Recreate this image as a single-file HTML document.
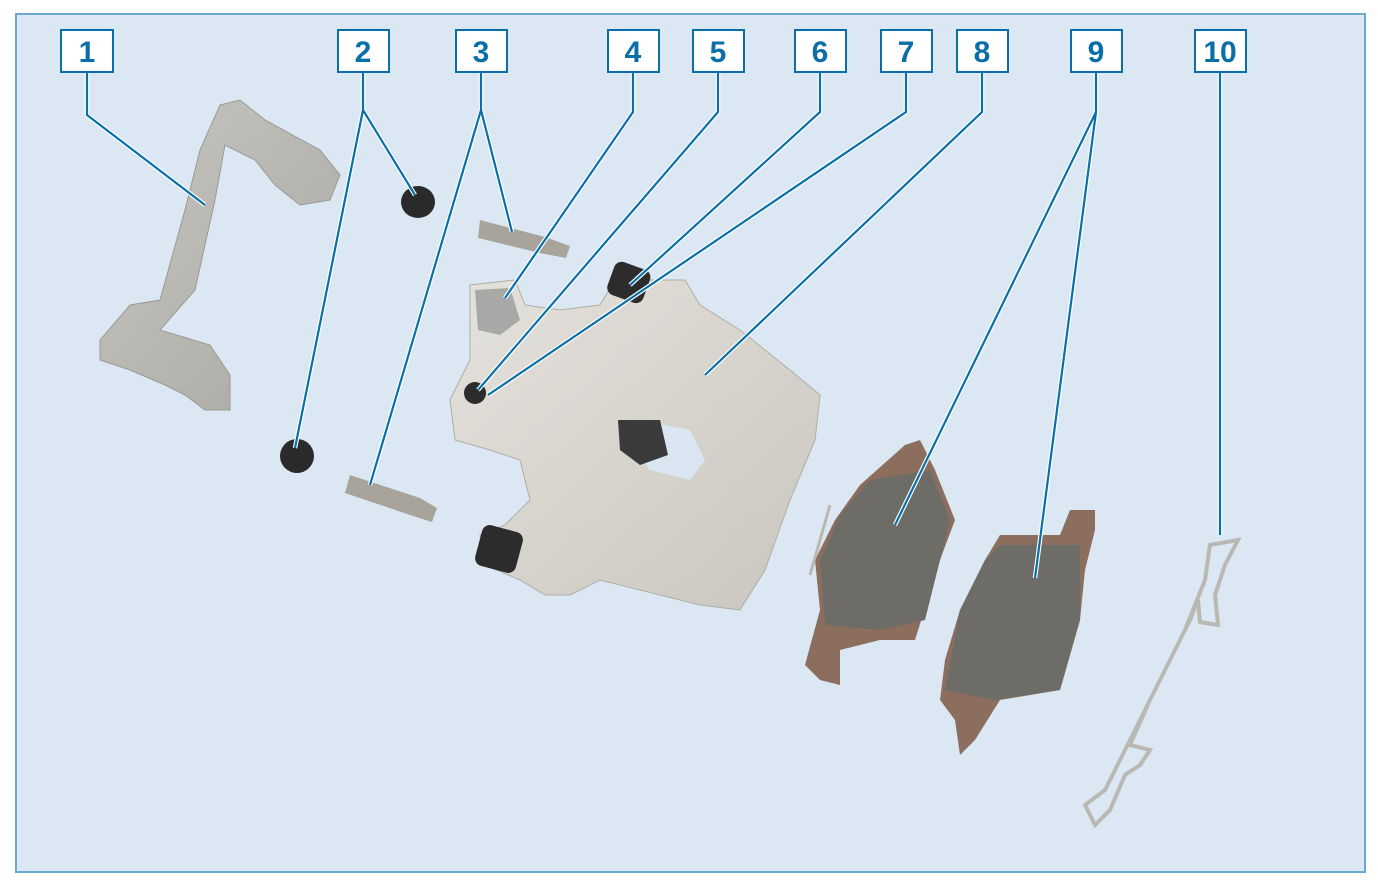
<!DOCTYPE html>
<html><head><meta charset="utf-8"><style>
html,body{margin:0;padding:0;background:#fff;}
svg{display:block}
text{font-family:"Liberation Sans",sans-serif;font-weight:bold;fill:#0a6fa8;font-size:30px;text-anchor:middle}
</style></head><body>
<svg width="1378" height="888" viewBox="0 0 1378 888">
<defs>
<linearGradient id="cal" x1="0" y1="0" x2="1" y2="1"><stop offset="0" stop-color="#e4e2dc"/><stop offset="1" stop-color="#c9c6be"/></linearGradient>
<linearGradient id="br" x1="0" y1="0" x2="1" y2="1"><stop offset="0" stop-color="#c7c6c0"/><stop offset="1" stop-color="#a9a8a2"/></linearGradient>
</defs>
<rect x="16" y="14" width="1349" height="858" fill="#dbe8f4" stroke="#6aa8cf" stroke-width="2"/>
<!-- bracket 1 -->
<g fill="url(#br)" stroke="#9a9994" stroke-width="1">
<path d="M220 105 L240 100 L265 120 L320 150 L340 175 L330 200 L300 205 L275 185 L255 160 L225 145 L215 200 L195 290 L160 330 L210 345 L230 375 L230 410 L205 410 L185 395 L165 385 L130 370 L100 360 L100 340 L130 305 L160 300 L185 210 L200 150 Z"/>
</g>
<!-- plugs 2 -->
<ellipse cx="418" cy="202" rx="17" ry="16" fill="#2a2a2a"/>
<ellipse cx="297" cy="456" rx="17" ry="17" fill="#2a2a2a"/>
<!-- pins 3 -->
<path d="M480 220 L545 237 L570 246 L566 258 L540 253 L478 238 Z" fill="#a8a49c"/>
<path d="M350 475 L420 498 L437 508 L432 522 L410 515 L345 493 Z" fill="#a8a49c"/>
<!-- caliper -->
<path d="M470 285 L515 280 L525 305 L560 310 L600 305 L615 280 L685 280 L700 305 L740 330 L790 370 L820 395 L815 440 L790 500 L765 570 L740 610 L700 605 L600 580 L570 595 L545 595 L520 580 L485 565 L480 535 L505 525 L530 500 L520 460 L490 450 L455 440 L450 400 L470 360 Z" fill="url(#cal)" stroke="#b0ada5"/>
<path d="M640 420 L690 430 L705 460 L690 480 L650 470 L630 445 Z" fill="#d9e6f1"/>
<path d="M618 420 L660 420 L668 455 L640 465 L620 450 Z" fill="#3a3a3a"/>
<path d="M475 290 L510 288 L520 320 L500 335 L478 330 Z" fill="#a8a8a6"/>
<rect x="610" y="265" width="38" height="35" rx="8" fill="#2c2c2c" transform="rotate(20 629 282)"/>
<rect x="478" y="528" width="42" height="42" rx="8" fill="#2c2c2c" transform="rotate(15 499 549)"/>
<circle cx="475" cy="393" r="11" fill="#2c2c2c"/>
<!-- pad 1 -->
<path d="M905 445 L920 440 L935 470 L955 520 L940 560 L915 640 L880 640 L840 650 L840 685 L820 680 L805 665 L820 610 L815 560 L835 520 L860 485 Z" fill="#8c6e5e"/>
<path d="M870 480 L930 470 L950 520 L925 620 L880 630 L825 625 L820 560 L840 515 Z" fill="#6e6c66"/>
<!-- pad 2 -->
<path d="M1000 535 L1060 535 L1070 510 L1095 510 L1095 530 L1085 570 L1080 620 L1060 690 L1000 700 L975 740 L960 755 L955 720 L940 700 L945 660 L960 610 L985 560 Z" fill="#8c6e5e"/>
<path d="M1000 545 L1080 545 L1080 620 L1060 690 L995 700 L945 690 L960 610 L985 560 Z" fill="#6e6c66"/>
<!-- spring 10 -->
<path d="M1210 545 L1238 540 L1225 565 L1215 595 L1218 625 L1200 622 L1198 600 L1190 620 L1170 660 L1150 700 L1130 745 L1150 750 L1140 765 L1125 775 L1110 810 L1095 825 L1085 805 L1105 790 L1120 760 L1140 720 L1160 680 L1185 630 L1205 580 Z" fill="none" stroke="#b9b8b2" stroke-width="4"/>
<path d="M830 505 L810 575" stroke="#b9b8b2" stroke-width="3"/>
<!-- leader lines -->
<g fill="none" stroke="#fff" stroke-width="4.5">
<path d="M87 72 V115 L205 205"/><path d="M363 72 V110 L415 195 M363 110 L295 448"/>
<path d="M481 72 V110 L512 232 M481 110 L370 485"/><path d="M633 72 V112 L505 298"/>
<path d="M718 72 V112 L478 390"/><path d="M820 72 V112 L630 285"/><path d="M906 72 V112 L488 395"/>
<path d="M982 72 V112 L705 375"/><path d="M1096 72 V112 L895 525 M1096 112 L1035 578"/><path d="M1220 72 V535"/>
</g>
<g fill="none" stroke="#0a6fa8" stroke-width="2.2">
<path d="M87 72 V115 L205 205"/><path d="M363 72 V110 L415 195 M363 110 L295 448"/>
<path d="M481 72 V110 L512 232 M481 110 L370 485"/><path d="M633 72 V112 L505 298"/>
<path d="M718 72 V112 L478 390"/><path d="M820 72 V112 L630 285"/><path d="M906 72 V112 L488 395"/>
<path d="M982 72 V112 L705 375"/><path d="M1096 72 V112 L895 525 M1096 112 L1035 578"/><path d="M1220 72 V535"/>
</g>
<g fill="#fff" stroke="#0a6fa8" stroke-width="2">
<rect x="61" y="30" width="52" height="42"/><rect x="338" y="30" width="51" height="42"/>
<rect x="456" y="30" width="51" height="42"/><rect x="608" y="30" width="51" height="42"/>
<rect x="693" y="30" width="51" height="42"/><rect x="795" y="30" width="51" height="42"/>
<rect x="881" y="30" width="51" height="42"/><rect x="957" y="30" width="51" height="42"/>
<rect x="1071" y="30" width="51" height="42"/><rect x="1195" y="30" width="51" height="42"/>
</g>
<text x="87" y="62">1</text><text x="363" y="62">2</text><text x="481" y="62">3</text>
<text x="633" y="62">4</text><text x="718" y="62">5</text><text x="820" y="62">6</text>
<text x="906" y="62">7</text><text x="982" y="62">8</text><text x="1096" y="62">9</text>
<text x="1220" y="62">10</text>
</svg>
</body></html>
